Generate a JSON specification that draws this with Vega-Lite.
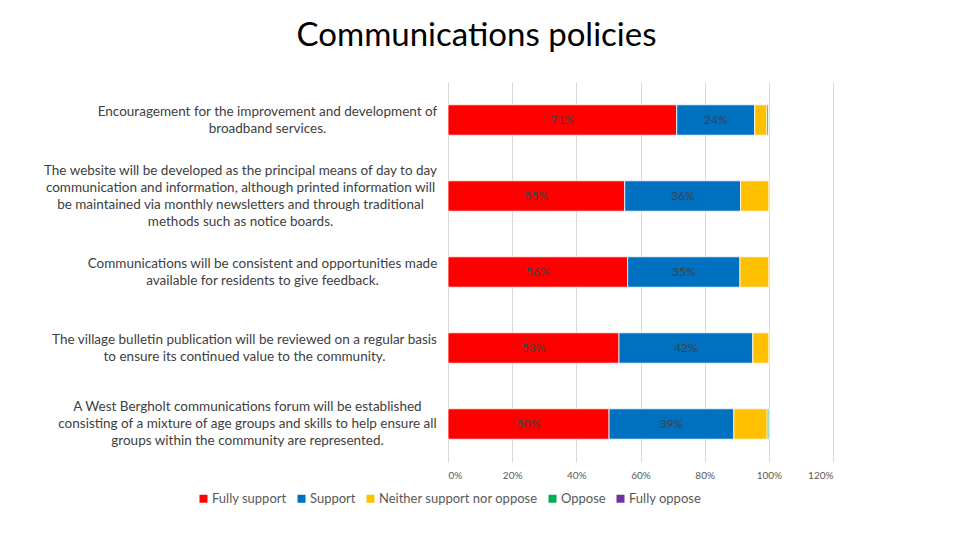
{
  "$schema": "https://vega.github.io/schema/vega-lite/v6.json",
  "width": 385,
  "height": 380,
  "autosize": {"type": "none"},
  "padding": {"left": 448, "top": 82, "right": 127, "bottom": 78},
  "background": "white",
  "title": {
    "text": "Communications policies",
    "font": "Lato",
    "fontSize": 33,
    "fontWeight": "normal",
    "color": "#000000",
    "anchor": "middle",
    "frame": "group",
    "dx": -164,
    "offset": 29
  },
  "config": {
    "view": {"stroke": null},
    "axis": {"labelFont": "Lato"},
    "legend": {"labelFont": "Lato"}
  },
  "data": {
    "values": [
      {"question": "Encouragement for the improvement and development of|broadband services.", "response": "Fully support", "value": 0.713},
      {"question": "Encouragement for the improvement and development of|broadband services.", "response": "Support", "value": 0.243},
      {"question": "Encouragement for the improvement and development of|broadband services.", "response": "Neither support nor oppose", "value": 0.038},
      {"question": "Encouragement for the improvement and development of|broadband services.", "response": "Oppose", "value": 0.005},
      {"question": "The website will be developed as the principal means of day to day|communication and information, although printed information will|be maintained via monthly newsletters and through traditional|methods such as notice boards.", "response": "Fully support", "value": 0.551},
      {"question": "The website will be developed as the principal means of day to day|communication and information, although printed information will|be maintained via monthly newsletters and through traditional|methods such as notice boards.", "response": "Support", "value": 0.361},
      {"question": "The website will be developed as the principal means of day to day|communication and information, although printed information will|be maintained via monthly newsletters and through traditional|methods such as notice boards.", "response": "Neither support nor oppose", "value": 0.088},
      {"question": "Communications will be consistent and opportunities made|available for residents to give feedback.", "response": "Fully support", "value": 0.56},
      {"question": "Communications will be consistent and opportunities made|available for residents to give feedback.", "response": "Support", "value": 0.35},
      {"question": "Communications will be consistent and opportunities made|available for residents to give feedback.", "response": "Neither support nor oppose", "value": 0.09},
      {"question": "The village bulletin publication will be reviewed on a regular basis|to ensure its continued value to the community.", "response": "Fully support", "value": 0.533},
      {"question": "The village bulletin publication will be reviewed on a regular basis|to ensure its continued value to the community.", "response": "Support", "value": 0.417},
      {"question": "The village bulletin publication will be reviewed on a regular basis|to ensure its continued value to the community.", "response": "Neither support nor oppose", "value": 0.05},
      {"question": "A West Bergholt communications forum will be established|consisting of a mixture of age groups and skills to help ensure all|groups within the community are represented.", "response": "Fully support", "value": 0.502},
      {"question": "A West Bergholt communications forum will be established|consisting of a mixture of age groups and skills to help ensure all|groups within the community are represented.", "response": "Support", "value": 0.389},
      {"question": "A West Bergholt communications forum will be established|consisting of a mixture of age groups and skills to help ensure all|groups within the community are represented.", "response": "Neither support nor oppose", "value": 0.104},
      {"question": "A West Bergholt communications forum will be established|consisting of a mixture of age groups and skills to help ensure all|groups within the community are represented.", "response": "Oppose", "value": 0.005}
    ]
  },
  "encoding": {
    "y": {
      "field": "question",
      "type": "nominal",
      "sort": null,
      "scale": {"paddingInner": 0.6, "paddingOuter": 0.3},
      "axis": {
        "title": null,
        "labelExpr": "split(datum.label, '|')",
        "labelAlign": "center",
        "labelBaseline": "middle",
        "labelLineHeight": 17,
        "labelFontSize": 13.5,
        "labelColor": "#404040",
        "labelLimit": 0,
        "ticks": false,
        "domain": false,
        "grid": false,
        "labelPadding": {
          "condition": [
            {"test": "indexof(datum.value, 'Encouragement') == 0", "value": 181},
            {"test": "indexof(datum.value, 'The website') == 0", "value": 208},
            {"test": "indexof(datum.value, 'Communications will') == 0", "value": 186},
            {"test": "indexof(datum.value, 'The village') == 0", "value": 204}
          ],
          "value": 201
        },
        "labelOffset": {
          "condition": [
            {"test": "length(split(datum.value, '|')) == 4", "value": -25.5},
            {"test": "length(split(datum.value, '|')) == 3", "value": -17}
          ],
          "value": -8.5
        }
      }
    },
    "order": {"field": "value", "type": "quantitative", "sort": "descending"}
  },
  "layer": [
    {
      "mark": {"type": "bar", "stroke": "white", "strokeWidth": 0.8},
      "encoding": {
        "x": {
          "field": "value",
          "type": "quantitative",
          "stack": "zero",
          "scale": {"domain": [0, 1.2], "nice": false},
          "axis": {
            "title": null,
            "format": ".0%",
            "values": [0, 0.2, 0.4, 0.6, 0.8, 1.0, 1.2],
            "grid": true,
            "gridColor": "#d9d9d9",
            "domain": false,
            "ticks": false,
            "labelFontSize": 10,
            "labelColor": "#595959",
            "labelPadding": 8
          }
        },
        "color": {
          "field": "response",
          "type": "nominal",
          "sort": ["Fully support", "Support", "Neither support nor oppose", "Oppose", "Fully oppose"],
          "scale": {
            "domain": ["Fully support", "Support", "Neither support nor oppose", "Oppose", "Fully oppose"],
            "range": ["#ff0000", "#0070c0", "#ffc000", "#00b050", "#7030a0"]
          },
          "legend": {
            "title": null,
            "orient": "none",
            "legendX": -251,
            "legendY": 410,
            "direction": "horizontal",
            "symbolType": "square",
            "symbolSize": 64,
            "symbolStrokeWidth": 0,
            "labelFontSize": 13,
            "labelColor": "#595959",
            "labelOffset": 2,
            "columnPadding": 8
          }
        }
      }
    },
    {
      "transform": [{"filter": "datum.response === 'Fully support' || datum.response === 'Support'"}],
      "mark": {"type": "text", "font": "Lato", "fontSize": 12, "color": "#404040", "align": "center", "baseline": "middle"},
      "encoding": {
        "x": {"field": "value", "type": "quantitative", "stack": "zero", "bandPosition": 0.5},
        "detail": {"field": "response"},
        "text": {"field": "value", "format": ".0%"}
      }
    }
  ]
}
